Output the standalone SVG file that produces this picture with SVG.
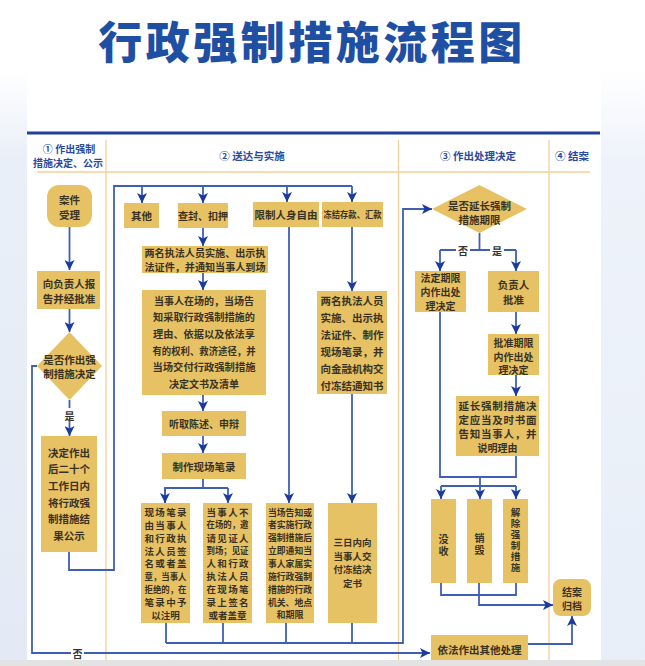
<svg xmlns="http://www.w3.org/2000/svg" width="645" height="666" viewBox="0 0 645 666">
<defs>
<linearGradient id="sideL" x1="0" y1="0" x2="0" y2="1"><stop offset="0" stop-color="#ffffff"/><stop offset="0.15" stop-color="#e9eff8"/><stop offset="1" stop-color="#e3eaf5"/></linearGradient>
<linearGradient id="sideR" x1="0" y1="0" x2="0" y2="1"><stop offset="0" stop-color="#ffffff"/><stop offset="0.15" stop-color="#eef3fa"/><stop offset="1" stop-color="#e8eef8"/></linearGradient>
<marker id="ah" viewBox="0 0 10 10" refX="10" refY="5" markerWidth="10" markerHeight="10" markerUnits="userSpaceOnUse" orient="auto"><path d="M0,0 L10,5 L0,10 L2.5,5 z" fill="#1b3b9c"/></marker>
<style>
.bx{fill:#e6c265;}
.t{font-family:"Noto Sans CJK SC","Noto Sans",sans-serif;font-weight:bold;font-size:10.5px;fill:#3a3222;text-anchor:middle;dominant-baseline:central;}
.v{writing-mode:vertical-rl;}
.s9{font-size:9px;}
.s95{font-size:9.5px;}
.s10{font-size:10px;}
.h{font-family:"Noto Sans CJK SC","Noto Sans",sans-serif;font-weight:bold;font-size:10.5px;fill:#2a4a9c;text-anchor:middle;dominant-baseline:central;}
.c{fill:none;stroke:#3f5fb5;stroke-width:1.8;}
.a{fill:none;stroke:#3f5fb5;stroke-width:1.8;marker-end:url(#ah);}
.ol{stroke:#f7cf98;stroke-width:1.3;fill:none;}
.lb{font-family:"Noto Sans CJK SC","Noto Sans",sans-serif;font-weight:bold;font-size:10px;fill:#333;text-anchor:middle;dominant-baseline:central;}
</style>
</defs>
<rect x="0" y="0" width="645" height="666" fill="#ffffff"/>
<rect x="0" y="70" width="27" height="590" fill="url(#sideL)"/>
<rect x="601" y="70" width="44" height="590" fill="url(#sideR)"/>
<text x="312" y="40" font-family="'Noto Sans CJK SC','Noto Sans',sans-serif" font-weight="900" font-size="44" fill="#1f4fa3" text-anchor="middle" dominant-baseline="central" letter-spacing="3.5">行政强制措施流程图</text>
<g id="frame">
<line x1="27" y1="133" x2="600" y2="133" stroke="#1e3f9c" stroke-width="3"/>
<line class="ol" x1="37" y1="172" x2="590" y2="172"/>
<line class="ol" x1="106" y1="140" x2="106" y2="666"/>
<line class="ol" x1="398.5" y1="140" x2="398.5" y2="666"/>
<line class="ol" x1="549" y1="140" x2="549" y2="666"/>
<text class="h" x="69" y="148.5" style="font-size:10px">① 作出强制</text>
<text class="h" x="68" y="162" style="font-size:10px">措施决定、公示</text>
<text class="h" x="252" y="155">② 送达与实施</text>
<text class="h" x="478" y="155">③ 作出处理决定</text>
<text class="h" x="572" y="155">④ 结案</text>
</g>
<g id="connectors">
<line class="a" x1="69.5" y1="227" x2="69.5" y2="270"/>
<line class="a" x1="69.5" y1="309" x2="69.5" y2="332"/>
<line class="a" x1="69.5" y1="400" x2="69.5" y2="436"/>
<polyline class="c" points="69,552 69,570 114,570 114,186 352,186"/>
<line class="a" x1="142" y1="186" x2="142" y2="203"/>
<line class="a" x1="203" y1="186" x2="203" y2="203"/>
<line class="a" x1="287" y1="186" x2="287" y2="202"/>
<line class="a" x1="352" y1="186" x2="352" y2="202"/>
<polyline class="a" points="37,366 32,366 32,653 430,653"/>
<line class="a" x1="203" y1="228" x2="203" y2="246"/>
<line class="a" x1="203" y1="273" x2="203" y2="290"/>
<line class="a" x1="203" y1="395" x2="203" y2="411"/>
<line class="a" x1="203" y1="436" x2="203" y2="453"/>
<polyline class="c" points="203,479 203,488"/>
<polyline class="c" points="165,503 165,488 228,488"/>
<line class="a" x1="165" y1="488" x2="165" y2="503"/>
<line class="a" x1="228" y1="488" x2="228" y2="503"/>
<line class="a" x1="289" y1="227" x2="289" y2="503"/>
<line class="a" x1="352" y1="227" x2="352" y2="291"/>
<line class="a" x1="352" y1="394" x2="352" y2="503"/>
<line class="c" x1="166" y1="623" x2="166" y2="643"/>
<line class="c" x1="223" y1="623" x2="223" y2="643"/>
<line class="c" x1="286" y1="623" x2="286" y2="643"/>
<line class="c" x1="352" y1="623" x2="352" y2="643"/>
<polyline class="a" points="166,643 403,643 403,209 432,209"/>
<line class="c" x1="479.5" y1="233" x2="479.5" y2="250"/>
<polyline class="c" points="440,250 516,250"/>
<line class="a" x1="440" y1="250" x2="440" y2="271"/>
<line class="a" x1="516" y1="250" x2="516" y2="271"/>
<line class="a" x1="516" y1="312" x2="516" y2="334"/>
<line class="a" x1="516" y1="375" x2="516" y2="396"/>
<polyline class="c" points="440,312 440,477 516,477 516,456"/>
<line class="c" x1="480" y1="477" x2="480" y2="486"/>
<line class="c" x1="441" y1="486" x2="516" y2="486"/>
<line class="a" x1="441" y1="486" x2="441" y2="499"/>
<line class="a" x1="480" y1="486" x2="480" y2="499"/>
<line class="a" x1="516" y1="486" x2="516" y2="499"/>
<polyline class="c" points="441,583 441,595 516,595 516,583"/>
<polyline class="a" points="479,583 479,605 553,605"/>
<polyline class="a" points="528,644 572,644 572,616"/>
<rect x="64" y="408" width="12" height="13" fill="#fff"/>
<text class="lb" x="69.5" y="415">是</text>
<rect x="71" y="647" width="13" height="13" fill="#fff"/>
<text class="lb" x="77.5" y="653">否</text>
<rect x="456" y="244" width="14" height="12" fill="#fff"/>
<text class="lb" x="463" y="250">否</text>
<rect x="490" y="244" width="14" height="12" fill="#fff"/>
<text class="lb" x="497" y="250">是</text>
</g>
<g id="n-accept"><rect class="bx" x="47" y="185" width="45" height="42" rx="12"/><text class="t" x="69.5" y="199">案件</text><text class="t" x="69.5" y="214">受理</text></g>
<g id="n-report"><rect class="bx" x="37" y="271" width="63" height="38"/><text class="t" x="69" y="283">向负责人报</text><text class="t" x="69" y="298.5">告并经批准</text></g>
<g id="n-decide"><polygon class="bx" points="69.5,332 102,366 69.5,400 37,366"/><text class="t" x="69.5" y="359">是否作出强</text><text class="t" x="69.5" y="373">制措施决定</text></g>
<g id="n-publish"><rect class="bx" x="41" y="436" width="56" height="116"/>
<text class="t" x="69" y="452">决定作出</text><text class="t" x="69" y="468.7">后二十个</text><text class="t" x="69" y="485.4">工作日内</text><text class="t" x="69" y="502.1">将行政强</text><text class="t" x="69" y="518.8">制措施结</text><text class="t" x="69" y="535.5">果公示</text></g>
<g id="n-other"><rect class="bx" x="124" y="203" width="35" height="25"/><text class="t" x="141.5" y="215.5">其他</text></g>
<g id="n-seal"><rect class="bx" x="178" y="203" width="50" height="25"/><text class="t s10" x="203" y="215.5">查封、扣押</text></g>
<g id="n-restrict"><rect class="bx" x="253" y="202" width="66" height="25"/><text class="t" x="286" y="214.5">限制人身自由</text></g>
<g id="n-freeze"><rect class="bx" x="322" y="202" width="61" height="25"/><text class="t s9" x="352.5" y="214.5" textLength="58" lengthAdjust="spacingAndGlyphs">冻结存款、汇款</text></g>
<g id="n-two"><rect class="bx" x="142" y="246" width="126" height="27"/><text class="t s10" x="205" y="252.5" textLength="121" lengthAdjust="spacingAndGlyphs">两名执法人员实施、出示执</text><text class="t s10" x="205" y="266.5" textLength="121" lengthAdjust="spacingAndGlyphs">法证件，并通知当事人到场</text></g>
<g id="n-present"><rect class="bx" x="142" y="290" width="124" height="105"/>
<text class="t s10" x="204" y="300" textLength="100" lengthAdjust="spacingAndGlyphs">当事人在场的，当场告</text>
<text class="t s10" x="204" y="316.7" textLength="102" lengthAdjust="spacingAndGlyphs">知采取行政强制措施的</text>
<text class="t s10" x="204" y="333.4" textLength="102" lengthAdjust="spacingAndGlyphs">理由、依据以及依法享</text>
<text class="t s10" x="204" y="350.1" textLength="103" lengthAdjust="spacingAndGlyphs">有的权利、救济途径，并</text>
<text class="t s10" x="204" y="366.8" textLength="103" lengthAdjust="spacingAndGlyphs">当场交付行政强制措施</text>
<text class="t s10" x="204" y="383.5">决定文书及清单</text></g>
<g id="n-hear"><rect class="bx" x="162" y="411" width="84" height="25"/><text class="t s10" x="204" y="423.5">听取陈述、申辩</text></g>
<g id="n-record"><rect class="bx" x="162" y="453" width="84" height="26"/><text class="t" x="204" y="466">制作现场笔录</text></g>
<g id="n-sign"><rect class="bx" x="141" y="503" width="49" height="120"/>
<text class="t s95" x="165.5" y="512" textLength="42" lengthAdjust="spacing">现场笔录</text>
<text class="t s95" x="165.5" y="524.9" textLength="42" lengthAdjust="spacing">由当事人</text>
<text class="t s95" x="165.5" y="537.7" textLength="42" lengthAdjust="spacing">和行政执</text>
<text class="t s95" x="165.5" y="550.6" textLength="42" lengthAdjust="spacing">法人员签</text>
<text class="t s95" x="165.5" y="563.4" textLength="42" lengthAdjust="spacing">名或者盖</text>
<text class="t s9" x="165.5" y="576.3" textLength="42" lengthAdjust="spacingAndGlyphs">章，当事人</text>
<text class="t s9" x="165.5" y="589.1" textLength="42" lengthAdjust="spacingAndGlyphs">拒绝的，在</text>
<text class="t s95" x="165.5" y="602" textLength="42" lengthAdjust="spacing">笔录中予</text>
<text class="t s95" x="165.5" y="614.8">以注明</text></g>
<g id="n-witness"><rect class="bx" x="203" y="503" width="49" height="120"/>
<text class="t s95" x="227.5" y="512" textLength="42" lengthAdjust="spacing">当事人不</text>
<text class="t s9" x="227.5" y="524.9" textLength="42" lengthAdjust="spacingAndGlyphs">在场的，邀</text>
<text class="t s95" x="227.5" y="537.7" textLength="42" lengthAdjust="spacing">请见证人</text>
<text class="t s9" x="227.5" y="550.6" textLength="42" lengthAdjust="spacingAndGlyphs">到场；见证</text>
<text class="t s95" x="227.5" y="563.4" textLength="42" lengthAdjust="spacing">人和行政</text>
<text class="t s95" x="227.5" y="576.3" textLength="42" lengthAdjust="spacing">执法人员</text>
<text class="t s95" x="227.5" y="589.1" textLength="42" lengthAdjust="spacing">在现场笔</text>
<text class="t s95" x="227.5" y="602" textLength="42" lengthAdjust="spacing">录上签名</text>
<text class="t s95" x="227.5" y="614.8">或者盖章</text></g>
<g id="n-notify"><rect class="bx" x="266" y="503" width="48" height="120"/>
<text class="t s9" x="290" y="512" textLength="44" lengthAdjust="spacingAndGlyphs">当场告知或</text>
<text class="t s9" x="290" y="524.9" textLength="44" lengthAdjust="spacingAndGlyphs">者实施行政</text>
<text class="t s9" x="290" y="537.7" textLength="44" lengthAdjust="spacingAndGlyphs">强制措施后</text>
<text class="t s9" x="290" y="550.6" textLength="44" lengthAdjust="spacingAndGlyphs">立即通知当</text>
<text class="t s9" x="290" y="563.4" textLength="44" lengthAdjust="spacingAndGlyphs">事人家属实</text>
<text class="t s9" x="290" y="576.3" textLength="44" lengthAdjust="spacingAndGlyphs">施行政强制</text>
<text class="t s9" x="290" y="589.1" textLength="44" lengthAdjust="spacingAndGlyphs">措施的行政</text>
<text class="t s9" x="290" y="602" textLength="44" lengthAdjust="spacingAndGlyphs">机关、地点</text>
<text class="t s9" x="290" y="614.8">和期限</text></g>
<g id="n-bank"><rect class="bx" x="317" y="291" width="70" height="103"/>
<text class="t" x="352" y="300">两名执法人员</text>
<text class="t" x="352" y="317">实施、出示执</text>
<text class="t" x="352" y="334">法证件、制作</text>
<text class="t" x="352" y="351">现场笔录，并</text>
<text class="t" x="352" y="368">向金融机构交</text>
<text class="t" x="352" y="385">付冻结通知书</text></g>
<g id="n-three"><rect class="bx" x="328" y="503" width="49" height="120"/>
<text class="t s95" x="352.5" y="542">三日内向</text>
<text class="t s95" x="352.5" y="555.7">当事人交</text>
<text class="t s95" x="352.5" y="569.4">付冻结决</text>
<text class="t s95" x="352.5" y="583.1">定书</text></g>
<g id="n-extend"><polygon class="bx" points="479.5,185 527,209 479.5,233 432,209"/><text class="t" x="479.5" y="205">是否延长强制</text><text class="t" x="479.5" y="219">措施期限</text></g>
<g id="n-legal"><rect class="bx" x="415" y="271" width="51" height="41"/><text class="t s10" x="440.5" y="277.5">法定期限</text><text class="t s10" x="440.5" y="291.5">内作出处</text><text class="t s10" x="440.5" y="305.5">理决定</text></g>
<g id="n-approve"><rect class="bx" x="488" y="271" width="51" height="41"/><text class="t" x="513.5" y="284.5">负责人</text><text class="t" x="513.5" y="299">批准</text></g>
<g id="n-within"><rect class="bx" x="488" y="334" width="51" height="41"/><text class="t s10" x="513.5" y="342.5">批准期限</text><text class="t s10" x="513.5" y="356">内作出处</text><text class="t s10" x="513.5" y="369.5">理决定</text></g>
<g id="n-inform"><rect class="bx" x="456" y="396" width="83" height="60"/>
<text class="t" x="497.5" y="405" textLength="78" lengthAdjust="spacing">延长强制措施决</text>
<text class="t" x="497.5" y="419" textLength="78" lengthAdjust="spacing">定应当及时书面</text>
<text class="t" x="497.5" y="433.3" textLength="78" lengthAdjust="spacing">告知当事人，并</text>
<text class="t s10" x="497.5" y="447.5">说明理由</text></g>
<g id="n-confiscate"><rect class="bx" x="431" y="499" width="25" height="84"/><text class="t v s10" x="443.5" y="546" letter-spacing="2">没收</text></g>
<g id="n-destroy"><rect class="bx" x="467" y="499" width="25" height="84"/><text class="t v s10" x="479.5" y="545" letter-spacing="1.5">销毁</text></g>
<g id="n-release"><rect class="bx" x="503" y="499" width="25" height="84"/><text class="t v s95" x="515.5" y="540.5" letter-spacing="1.5">解除强制措施</text></g>
<g id="n-close"><rect class="bx" x="553" y="579" width="38" height="37" rx="8"/><text class="t s10" x="572" y="591.5">结案</text><text class="t s10" x="572" y="605">归档</text></g>
<g id="n-otherhandle"><rect class="bx" x="431" y="635" width="97" height="30"/><text class="t" x="479.5" y="649">依法作出其他处理</text></g>
<rect x="0" y="660" width="645" height="6" fill="#e3e3e3"/>
</svg>
